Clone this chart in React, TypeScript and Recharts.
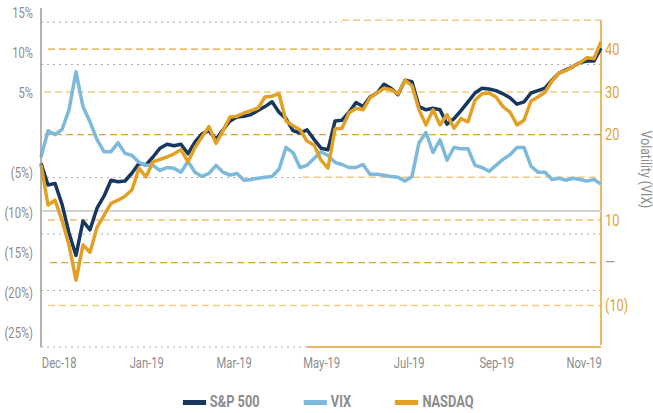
import React from "react";
import { LineChart, Line, XAxis, YAxis, ReferenceLine, Legend } from "recharts";

// cumulative return, % (left axis)
const SP500 = [
  -3.8, -6.5, -6.3, -8.9, -12.5, -15.3, -11.0, -12.1, -9.4, -7.9, -5.9, -6.1, -6.0, -5.0, -3.8, -4.0,
  -3.0, -1.9, -1.4, -1.6, -1.4, -2.6, -1.1, -0.1, 0.3, -0.8, 0.4, 1.5, 2.0, 2.1, 2.3, 2.8,
  3.3, 3.9, 2.6, 1.8, 0.3, 0.0, 0.4, -0.8, -1.9, -2.1, 1.5, 1.6, 2.6, 3.8, 3.3, 4.5,
  5.0, 6.1, 5.6, 4.8, 6.6, 6.4, 3.3, 2.9, 3.1, 2.9, 1.1, 1.8, 2.8, 3.9, 5.0, 5.6,
  5.5, 5.3, 4.9, 4.4, 3.6, 3.9, 5.0, 5.3, 5.6, 6.6, 7.5, 7.9, 8.3, 8.8, 9.0, 9.0, 10.6,
];
const NASDAQ = [
  -4.0, -9.0, -8.4, -10.9, -14.0, -18.4, -14.0, -14.9, -11.8, -10.3, -8.8, -8.4, -7.9, -7.1, -4.4, -5.5,
  -3.6, -3.3, -3.0, -2.6, -2.1, -3.6, -1.8, -0.5, 0.8, -1.3, 0.3, 2.0, 2.1, 2.5, 2.8, 3.1,
  4.5, 4.6, 4.9, 1.5, 0.9, 0.4, -1.0, -1.5, -3.4, -4.4, 0.5, 0.6, 2.5, 3.1, 2.9, 4.4,
  5.0, 5.6, 5.4, 4.9, 6.6, 5.9, 2.9, 1.0, 2.9, 1.0, 2.3, 0.6, 1.8, 1.4, 4.1, 4.9,
  5.0, 4.5, 3.3, 2.6, 1.0, 1.6, 4.0, 4.5, 5.1, 6.5, 7.5, 7.8, 8.3, 8.8, 9.4, 9.3, 11.4,
];
// volatility index (right axis)
const VIX = [
  14.7, 20.9, 20.0, 21.2, 25.8, 34.7, 26.5, 23.0, 18.8, 16.0, 16.0, 18.1, 15.6, 15.1, 13.5, 12.8,
  12.8, 11.6, 12.3, 12.1, 11.2, 13.7, 11.2, 10.2, 10.9, 12.8, 11.2, 10.5, 10.9, 9.3, 9.5, 9.8,
  10.0, 10.2, 11.9, 17.0, 15.8, 12.3, 12.8, 14.4, 16.0, 15.1, 13.5, 13.0, 12.3, 12.3, 13.0, 10.7,
  10.7, 10.5, 10.2, 10.0, 9.1, 10.2, 18.1, 20.5, 15.8, 18.8, 14.0, 17.0, 16.7, 16.7, 12.8, 12.3,
  11.4, 12.8, 14.2, 15.3, 17.0, 17.0, 12.6, 11.2, 11.2, 9.5, 9.8, 9.3, 9.8, 9.5, 9.1, 9.5, 8.4,
];

const SERIES_NAMES = ["S&P 500", "VIX", "NASDAQ"];
const X_TICKS = [2.6, 15.1, 27.6, 40.1, 52.6, 65.1, 77.6];
const X_LABELS = ["Dec-18", "Jan-19", "Mar-19", "May-19", "Jul-19", "Sep-19", "Nov-19"];
const LEFT_TICKS = [15, 10, 5, -5, -10, -15, -20, -25];
const RIGHT_TICKS = [40, 30, 20, 0, -10, -20];
const RIGHT_LABELS = ["40", "30", "20", "10", "—", "(10)"];

const data = SP500.map((v, i) => ({ i, sp: v, vix: VIX[i], nasdaq: NASDAQ[i] }));

const FONT = "Roboto, 'DejaVu Sans', sans-serif";
const NARROW = 0.8; // the original uses a condensed face
const GRAY = "#8c8c8c";
const ORANGE = "#E3A232";
const ORANGE_LIGHT = "#F0CB80";

const pct = (v: number) => (v < 0 ? `(${-v}%)` : `${v}%`);

const NarrowText = ({ x, y, anchor, size, fill, dy, children }: any) => (
  <g transform={`translate(${x},${y}) scale(${NARROW},1)`}>
    <text x={0} y={0} dy={dy} textAnchor={anchor} fontSize={size} fill={fill} fontFamily={FONT}>
      {children}
    </text>
  </g>
);

const LeftTick = (props: any) => (
  <NarrowText x={props.x} y={props.y} anchor="end" size={14} fill={GRAY} dy="0.36em">
    {pct(props.payload.value)}
  </NarrowText>
);

const BottomTick = (props: any) => (
  <NarrowText x={props.x} y={props.y} anchor="middle" size={14} fill={GRAY} dy="0.71em">
    {X_LABELS[X_TICKS.indexOf(props.payload.value)]}
  </NarrowText>
);

const RightTick = (props: any) => {
  const label = RIGHT_LABELS[RIGHT_TICKS.indexOf(props.payload.value)];
  return (
    <NarrowText x={props.x} y={props.y} anchor="start" size={16} fill={label === "—" ? "#9a9a9a" : ORANGE} dy="0.36em">
      {label}
    </NarrowText>
  );
};

const VixTitle = (props: any) => {
  const vb = props.viewBox || { x: 0, y: 0, width: 0, height: 0 };
  const cx = vb.x + vb.width - 7;
  const cy = vb.y + vb.height / 2 - 8;
  return (
    <g transform={`translate(${cx},${cy}) rotate(90) scale(0.88,1)`}>
      <text x={0} y={0} dy="0.36em" textAnchor="middle" fontSize={14} fill={GRAY} fontFamily={FONT}>
        Volatility (VIX)
      </text>
    </g>
  );
};

const renderLegend = (props: any) => {
  const items = [...(props.payload || [])].sort(
    (a: any, b: any) => SERIES_NAMES.indexOf(a.value) - SERIES_NAMES.indexOf(b.value)
  );
  return (
    <div
      style={{
        display: "flex",
        justifyContent: "center",
        gap: 55,
        fontFamily: FONT,
        transform: `scaleX(${NARROW})`,
        transformOrigin: "center",
        paddingLeft: 4,
      }}
    >
      {items.map((p: any) => (
        <div key={p.value} style={{ display: "flex", alignItems: "center", gap: 5 }}>
          <span style={{ display: "inline-block", width: 29, height: 5, background: p.color }} />
          <span style={{ color: GRAY, fontSize: 16, fontWeight: 700, lineHeight: "18px" }}>{p.value}</span>
        </div>
      ))}
    </div>
  );
};

const dotted = { stroke: "#aaaaaa", strokeDasharray: "2 4", strokeWidth: 1 };
const dashed = { stroke: ORANGE, strokeDasharray: "7 4", strokeWidth: 1.2 };
const dashedLight = { stroke: ORANGE_LIGHT, strokeDasharray: "7 4", strokeWidth: 1.5 };

export default function App() {
  return (
    <div style={{ position: "absolute", left: 0, top: 0, width: 653, height: 413, fontFamily: FONT }}>
      <LineChart width={653} height={413} data={data} margin={{ top: 8, right: 0, bottom: 36, left: 8 }}>
        <XAxis
          dataKey="i"
          type="number"
          domain={[0, 80]}
          ticks={X_TICKS}
          interval={0}
          axisLine={false}
          tickLine={false}
          tickMargin={5}
          height={30}
          tick={<BottomTick />}
        />
        <YAxis
          yAxisId="left"
          type="number"
          domain={[-26.75, 15.625]}
          allowDataOverflow
          ticks={LEFT_TICKS}
          interval={0}
          width={33}
          tickLine={false}
          axisLine={{ stroke: "#9a9a9a", strokeWidth: 1.5 }}
          tick={<LeftTick />}
        />
        <YAxis
          yAxisId="right"
          orientation="right"
          type="number"
          domain={[-29.74, 49.65]}
          allowDataOverflow
          ticks={RIGHT_TICKS}
          interval={0}
          width={52}
          tickSize={3}
          tickMargin={1}
          axisLine={false}
          tickLine={false}
          tick={<RightTick />}
          label={<VixTitle />}
        />
        <YAxis yAxisId="grid" hide width={0} type="number" domain={[0, 6]} allowDataOverflow />

        {/* gray dotted grid */}
        <ReferenceLine yAxisId="grid" y={5} {...dotted} />
        <ReferenceLine yAxisId="grid" y={2} {...dotted} />
        <ReferenceLine yAxisId="grid" y={1} {...dotted} />
        <ReferenceLine yAxisId="grid" segment={[{ x: 0, y: 5.75 }, { x: 43, y: 5.75 }]} {...dotted} />
        <ReferenceLine yAxisId="grid" segment={[{ x: 0, y: 3 }, { x: 37.4, y: 3 }]} {...dotted} />
        <ReferenceLine yAxisId="grid" segment={[{ x: 0, y: 0 }, { x: 38, y: 0 }]} {...dotted} />
        <ReferenceLine yAxisId="grid" segment={[{ x: 38, y: 0 }, { x: 80, y: 0 }]} stroke={ORANGE} strokeWidth={1.5} />

        {/* orange dashed grid (VIX) */}
        <ReferenceLine yAxisId="right" segment={[{ x: 43, y: 46.8 }, { x: 80, y: 46.8 }]} {...dashedLight} />
        <ReferenceLine yAxisId="right" segment={[{ x: 1, y: 40 }, { x: 80, y: 40 }]} {...dashed} />
        <ReferenceLine yAxisId="right" y={30} {...dashedLight} />
        <ReferenceLine yAxisId="right" y={20} {...dashed} />
        <ReferenceLine yAxisId="right" segment={[{ x: 37.4, y: 10 }, { x: 80, y: 10 }]} {...dashedLight} />
        <ReferenceLine yAxisId="right" segment={[{ x: 1, y: 0 }, { x: 80, y: 0 }]} {...dashed} />
        <ReferenceLine yAxisId="right" segment={[{ x: 1.3, y: -10 }, { x: 80, y: -10 }]} {...dashed} />
        <ReferenceLine yAxisId="right" segment={[{ x: 1, y: -20 }, { x: 80, y: -20 }]} {...dashedLight} />
        <ReferenceLine yAxisId="right" segment={[{ x: 80, y: -29.27 }, { x: 80, y: 46.84 }]} stroke={ORANGE} strokeWidth={1.5} />

        <ReferenceLine yAxisId="left" y={-9.75} stroke="#d4d4d4" strokeWidth={2} />

        <Line yAxisId="left" name="S&P 500" dataKey="sp" stroke="#17375E" strokeWidth={3.5} dot={false} strokeLinejoin="round" isAnimationActive={false} />
        <Line yAxisId="right" name="VIX" dataKey="vix" stroke="#7DB9DB" strokeWidth={3.5} dot={false} strokeLinejoin="round" isAnimationActive={false} />
        <Line yAxisId="left" name="NASDAQ" dataKey="nasdaq" stroke="#E2A124" strokeWidth={3.5} dot={false} strokeLinejoin="round" isAnimationActive={false} />

        <Legend verticalAlign="middle" content={renderLegend} wrapperStyle={{ top: 393, left: 0, width: 653 }} />
      </LineChart>
    </div>
  );
}
